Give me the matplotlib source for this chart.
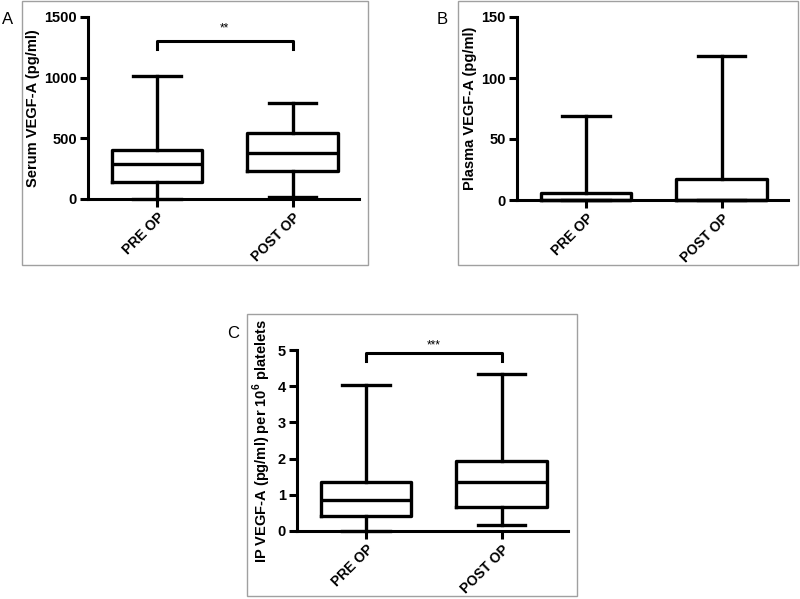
import matplotlib
matplotlib.use('Agg')
import matplotlib.pyplot as plt
from matplotlib.patches import Rectangle

plt.rcParams['font.family'] = ['Liberation Sans', 'DejaVu Sans']
plt.rcParams['mathtext.fontset'] = 'custom'
plt.rcParams['mathtext.bf'] = 'Liberation Sans:bold'
plt.rcParams['mathtext.rm'] = 'Liberation Sans:bold'

# Datos (cuartiles y extremos de bigotes)
grupos = ['PRE OP', 'POST OP']

serum_min = [0, 19]
serum_q1 = [142, 231]
serum_med = [288, 376]
serum_q3 = [401, 547]
serum_max = [1014, 789]

plasma_min = [0, 0]
plasma_q1 = [0, 0]
plasma_med = [0, 0]
plasma_q3 = [6, 17]
plasma_max = [69, 118]

ip_min = [0, 0.16]
ip_q1 = [0.42, 0.67]
ip_med = [0.86, 1.35]
ip_q3 = [1.35, 1.93]
ip_max = [4.03, 4.35]

fig = plt.figure(figsize=(8, 5.99), dpi=100)


def px(x, y):
    # pixel -> fraccion de figura
    return x / 800, 1 - y / 599


def panel(rect, mins, q1s, meds, q3s, maxs, ymax, yticks, ylabel):
    ax = fig.add_axes(rect)
    stats = []
    for i in range(len(grupos)):
        stats.append(dict(whislo=mins[i], q1=q1s[i], med=meds[i], q3=q3s[i], whishi=maxs[i]))
    lw = 2.4
    ax.bxp(stats, positions=[1, 2], widths=0.67, showfliers=False,
           boxprops=dict(linewidth=lw, color='black'),
           medianprops=dict(linewidth=lw, color='black'),
           whiskerprops=dict(linewidth=lw, color='black'),
           capprops=dict(linewidth=lw, color='black'),
           capwidths=0.35, manage_ticks=False)
    for art in ax.lines:
        art.set_clip_on(False)
    ax.set_xlim(0.49, 2.49)
    ax.set_ylim(0, ymax)
    ax.set_yticks(yticks)
    ax.set_xticks([1, 2])
    ax.set_xticklabels(grupos, rotation=45, ha='right', rotation_mode='anchor',
                       fontweight='bold', fontsize=10)
    for lab in ax.get_yticklabels():
        lab.set_fontweight('bold')
        lab.set_fontsize(10.5)
    ax.spines['top'].set_visible(False)
    ax.spines['right'].set_visible(False)
    ax.spines['left'].set_linewidth(2.2)
    ax.spines['bottom'].set_linewidth(2.2)
    ax.tick_params(width=2.2, length=6, pad=2)
    ax.set_ylabel(ylabel, fontweight='bold', fontsize=10.5, labelpad=3)
    ax.set_facecolor('none')
    return ax


def corchete(ax, y, ybajo, ytxt, txt):
    ax.plot([1, 1, 2, 2], [ybajo, y, y, ybajo], color='black', lw=2.2, clip_on=False)
    ax.text(1.5, ytxt, txt, ha='center', va='center', fontsize=8.5)


# Panel A
x0, y0 = px(88, 199)
x1, y1 = px(359, 17)
axA = panel([x0, y0, x1 - x0, y1 - y0], serum_min, serum_q1, serum_med, serum_q3, serum_max,
            1500, [0, 500, 1000, 1500], 'Serum VEGF-A (pg/ml)')
corchete(axA, 1302, 1236, 1405, '**')

# Panel B
x0, y0 = px(517, 200)
x1, y1 = px(788, 17)
axB = panel([x0, y0, x1 - x0, y1 - y0], plasma_min, plasma_q1, plasma_med, plasma_q3, plasma_max,
            150, [0, 50, 100, 150], 'Plasma VEGF-A (pg/ml)')

# Panel C
x0, y0 = px(297, 531)
x1, y1 = px(568, 350)
axC = panel([x0, y0, x1 - x0, y1 - y0], ip_min, ip_q1, ip_med, ip_q3, ip_max,
            5, [0, 1, 2, 3, 4, 5], r'IP VEGF-A (pg/ml) per 10$^{6}$ platelets')
corchete(axC, 4.93, 4.7, 5.12, '***')

# Marcos grises de cada panel
for (xa, ya, xb, yb) in [(22, 1, 368, 265), (458, 1, 798, 265), (247, 314, 577, 596)]:
    fx0, fy0 = px(xa, yb)
    fx1, fy1 = px(xb, ya)
    fig.add_artist(Rectangle((fx0, fy0), fx1 - fx0, fy1 - fy0, transform=fig.transFigure,
                             fill=False, edgecolor='#a0a0a0', linewidth=1))

for letra, (lx, ly) in [('A', (8, 19)), ('B', (442, 19)), ('C', (233, 333))]:
    fx, fy = px(lx, ly)
    fig.text(fx, fy, letra, ha='center', va='center', fontsize=12)

plt.savefig('out.png', dpi=100)
